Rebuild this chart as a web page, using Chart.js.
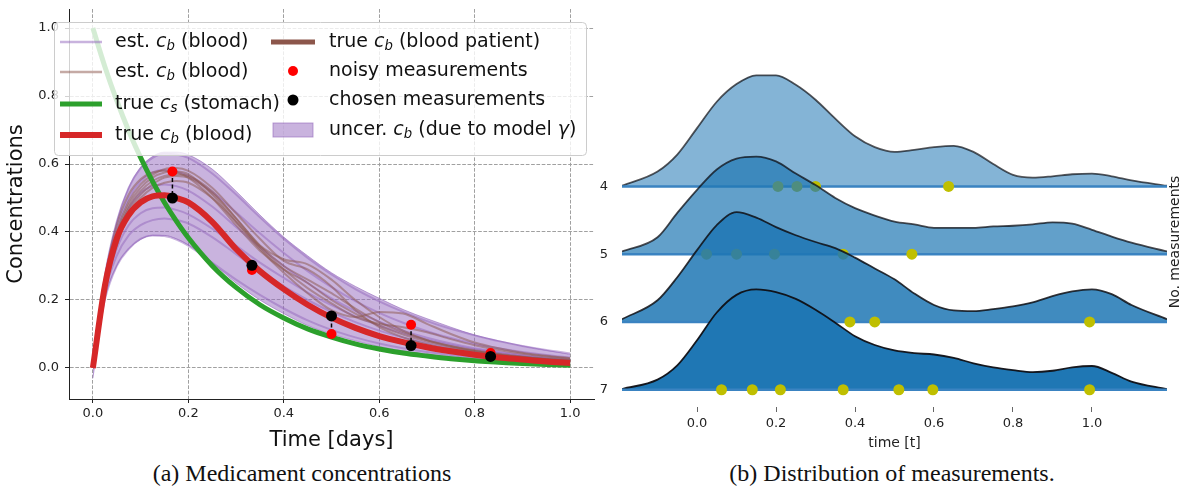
<!DOCTYPE html>
<html><head><meta charset="utf-8">
<script src="https://cdn.jsdelivr.net/npm/chart.js@4/dist/chart.umd.min.js"></script>
<style>
body{margin:0;background:#fff;width:1183px;height:491px;position:relative;overflow:hidden}
canvas{position:absolute;top:0}
#ca{left:0}
#cb{left:600px}
.cap{position:absolute;top:460px;font:24px "Liberation Serif",serif;color:#111;white-space:nowrap;transform:translateX(-50%)}
</style></head><body>
<canvas id="ca" width="600" height="455"></canvas>
<canvas id="cb" width="583" height="455"></canvas>
<div class="cap" style="left:302px">(a) Medicament concentrations</div>
<div class="cap" style="left:892px">(b) Distribution of measurements.</div>
<script>
Chart.defaults.font.family = 'DejaVu Sans'
Chart.defaults.color = '#222'

// ---- panel (a) data
const tGrid = [0, .025, .05, .075, .1, .125, .15, .175, .2, .25, .3, .35, .4, .45, .5, .55, .6, .65, .7, .75, .8, .85, .9, .95, 1]
const cStomach = [1, .887, .787, .698, .619, .549, .487, .432, .383, .301, .237, .186, .147, .115, .091, .071, .056, .044, .035, .027, .021, .017, .013, .010, .008]
const cBlood = [0, .24, .38, .45, .487, .505, .508, .50, .487, .43, .35, .285, .232, .186, .148, .118, .094, .076, .061, .049, .039, .031, .025, .019, .015]
const bandLow = [-.03, .2, .3, .35, .378, .39, .39, .38, .362, .31, .25, .2, .16, .125, .1, .08, .063, .05, .04, .032, .026, .021, .017, .014, .012]
const bandHigh = [0, .27, .43, .53, .59, .622, .635, .635, .627, .585, .52, .45, .385, .33, .28, .24, .205, .172, .145, .12, .097, .08, .065, .052, .04]
const estPurple = [
  [0, .2, .3, .35, .38, .39, .388, .378, .36, .31, .26, .215, .175, .14, .112, .09, .072, .058, .047, .038, .03, .024, .019, .015, .012],
  [0, .22, .33, .39, .42, .435, .44, .435, .425, .385, .335, .285, .24, .2, .165, .135, .11, .09, .073, .06, .048, .039, .032, .026, .021],
  [0, .23, .35, .42, .455, .47, .472, .465, .452, .41, .36, .31, .265, .222, .185, .152, .125, .102, .083, .068, .055, .045, .036, .029, .023],
  [0, .25, .39, .47, .515, .535, .54, .535, .522, .475, .415, .355, .3, .25, .205, .168, .136, .11, .089, .072, .058, .047, .038, .031, .025],
  [0, .26, .41, .5, .55, .575, .582, .578, .565, .518, .458, .396, .338, .285, .238, .197, .162, .133, .108, .088, .071, .058, .047, .038, .031],
  [0, .27, .43, .53, .588, .618, .63, .628, .618, .572, .51, .443, .38, .324, .275, .232, .196, .165, .138, .115, .096, .079, .065, .053, .043]
]
const estBrown = [
  [0, .26, .42, .51, .555, .575, .58, .575, .56, .5, .42, .345, .29, .25, .2, .16, .125, .098, .078, .062, .05, .04, .032, .026, .021],
  [0, .25, .4, .49, .54, .568, .585, .588, .58, .53, .455, .38, .315, .29, .24, .17, .12, .09, .07, .056, .045, .037, .03, .025, .02],
  [0, .24, .38, .47, .52, .55, .565, .57, .565, .52, .44, .36, .32, .305, .26, .2, .15, .11, .082, .064, .05, .04, .032, .026, .021],
  [0, .25, .39, .48, .53, .56, .575, .578, .57, .51, .43, .35, .28, .22, .17, .15, .165, .16, .13, .1, .075, .058, .045, .036, .029],
  [0, .23, .36, .45, .5, .53, .545, .55, .545, .5, .43, .355, .29, .235, .19, .15, .13, .12, .105, .085, .067, .053, .042, .034, .027],
  [0, .24, .37, .46, .51, .54, .56, .565, .56, .515, .44, .36, .3, .26, .22, .175, .135, .105, .082, .065, .052, .042, .034, .028, .023]
]
const measT = [.1667, .3333, .5, .6667, .8333]
const noisy = [.578, .288, .1, .127, .044]
const chosen = [.5, .302, .153, .066, .034]
const aTicks = [0, .2, .4, .6, .8, 1]

// ---- panel (b) data
const ridgeX = [-.19, -.1, -.05, 0, .05, .1, .15, .2, .25, .3, .35, .4, .45, .5, .55, .6, .65, .7, .75, .8, .85, .9, .95, 1, 1.05, 1.1, 1.19]
const ridge4 = [.01, .22, .47, .86, 1.25, 1.51, 1.64, 1.64, 1.5, 1.28, 1, .74, .58, .51, .54, .58, .6, .51, .33, .17, .13, .15, .18, .19, .15, .09, .01]
const ridge5 = [.04, .25, .61, .95, 1.25, 1.41, 1.44, 1.37, 1.19, 1.02, .83, .68, .57, .48, .44, .39, .39, .39, .41, .42, .44, .47, .45, .36, .26, .17, .04]
const ridge6 = [.04, .32, .66, 1.06, 1.43, 1.62, 1.54, 1.4, 1.28, 1.18, 1.09, .95, .79, .63, .42, .25, .17, .16, .19, .23, .29, .38, .45, .48, .41, .25, .04]
const ridge7 = [.01, .15, .36, .73, 1.14, 1.4, 1.48, 1.44, 1.34, 1.18, .99, .79, .66, .58, .54, .52, .47, .39, .33, .29, .26, .28, .33, .35, .25, .12, .01]
const rowLabels = ['4', '5', '6', '7']
const meas4 = [.205, .253, .3, .637]
const meas5 = [.024, .1, .196, .37, .544]
const meas6 = [.387, .45, .994]
const meas7 = [.062, .14, .211, .37, .511, .597, .994]
const bTicks = [0, .2, .4, .6, .8, 1]

// ---------- helpers
const pts = ys => ys.map((y, i) => ({x: tGrid[i], y}))
const curve = (ys, color, w, extra) => ({data: pts(ys), borderColor: color, borderWidth: w, pointRadius: 0,
  cubicInterpolationMode: 'monotone', fill: false, ...extra})
const PURPLE = 'rgba(148,103,189,0.5)', BROWN = 'rgba(140,86,75,0.5)'
const noPad = s => { s.paddingTop = 0; s.paddingBottom = 0; s.paddingLeft = 0; s.paddingRight = 0 }

const it = t => ({t, it: true}), sb = t => ({t, sub: true, it: true})
function rich(ctx, x, y, parts, size) {
  let cx = x
  ctx.textBaseline = 'middle'; ctx.textAlign = 'left'; ctx.fillStyle = '#111'
  for (const p of parts) {
    const s = typeof p === 'string' ? {t: p} : p
    const fs = s.sub ? size * 0.7 : size
    ctx.font = (s.it ? 'italic ' : '') + fs + 'px "DejaVu Sans"'
    ctx.fillText(s.t, cx, y + (s.sub ? size * 0.25 : 0))
    cx += ctx.measureText(s.t).width
  }
}

const legendA = {
  id: 'legendA',
  afterDatasetsDraw(chart) {
    const ctx = chart.ctx
    ctx.save()
    ctx.beginPath(); ctx.roundRect(54.5, 22.5, 532, 133, 4)
    ctx.fillStyle = 'rgba(255,255,255,0.8)'; ctx.fill()
    ctx.strokeStyle = '#ccc'; ctx.lineWidth = 1; ctx.stroke()
    const hline = (x1, x2, y, c, w) => { ctx.beginPath(); ctx.moveTo(x1, y); ctx.lineTo(x2, y); ctx.strokeStyle = c; ctx.lineWidth = w; ctx.stroke() }
    const dot = (x, y, r, c) => { ctx.beginPath(); ctx.arc(x, y, r, 0, 7); ctx.fillStyle = c; ctx.fill() }
    hline(60, 102, 42, PURPLE, 2.5)
    hline(60, 102, 72, BROWN, 2.5)
    hline(60, 102, 104, '#2ca02c', 5)
    hline(60, 102, 135, '#d62728', 6)
    hline(271, 315, 42, '#8c564b', 5)
    dot(293, 71, 5, '#ff0000')
    dot(293, 100, 5.5, '#000')
    ctx.fillStyle = PURPLE; ctx.fillRect(273, 123, 40, 14)
    ctx.strokeStyle = 'rgba(148,103,189,0.6)'; ctx.lineWidth = 1; ctx.strokeRect(273, 123, 40, 14)
    const fs = 19
    rich(ctx, 115, 42, ['est. ', it('c'), sb('b'), ' (blood)'], fs)
    rich(ctx, 115, 72, ['est. ', it('c'), sb('b'), ' (blood)'], fs)
    rich(ctx, 115, 104, ['true ', it('c'), sb('s'), ' (stomach)'], fs)
    rich(ctx, 115, 135, ['true ', it('c'), sb('b'), ' (blood)'], fs)
    rich(ctx, 329, 42, ['true ', it('c'), sb('b'), ' (blood patient)'], fs)
    rich(ctx, 329, 71, ['noisy measurements'], fs)
    rich(ctx, 329, 100, ['chosen measurements'], fs)
    rich(ctx, 329, 130, ['uncer. ', it('c'), sb('b'), ' (due to model ', it('γ'), ')'], fs)
    ctx.restore()
  }
}

// ---------- panel (a)
const dsA = [
  curve(bandLow, 'rgba(148,103,189,0.6)', 1),
  curve(bandHigh, 'rgba(148,103,189,0.6)', 1, {fill: '-1', backgroundColor: PURPLE}),
  ...estPurple.map(c => curve(c, PURPLE, 2)),
  ...estBrown.map(c => curve(c, BROWN, 2)),
  curve(cStomach, '#2ca02c', 5),
  curve(cBlood, '#d62728', 6),
  ...measT.map((t, i) => ({data: [{x: t, y: noisy[i]}, {x: t, y: chosen[i]}], borderColor: '#000',
    borderWidth: 1.5, borderDash: [4, 2.5], pointRadius: 0})),
  {data: measT.map((t, i) => ({x: t, y: noisy[i]})), showLine: false, pointRadius: 5,
    pointBackgroundColor: '#ff0000', pointBorderWidth: 0},
  {data: measT.map((t, i) => ({x: t, y: chosen[i]})), showLine: false, pointRadius: 5.5,
    pointBackgroundColor: '#000', pointBorderWidth: 0}
].map((d, i) => ({...d, order: -i}))

new Chart(document.getElementById('ca'), {
  type: 'line',
  data: {datasets: dsA},
  options: {
    responsive: false, animation: false,
    layout: {padding: {top: 9, right: 6}},
    plugins: {legend: {display: false}, tooltip: {enabled: false}},
    scales: {
      x: {type: 'linear', min: -0.05, max: 1.05,
        afterBuildTicks: s => { s.ticks = aTicks.map(v => ({value: v})) },
        afterFit: s => { s.height = 56; noPad(s) },
        ticks: {callback: v => v.toFixed(1), font: {size: 13}, padding: 3, maxRotation: 0, autoSkip: false},
        grid: {color: '#a0a0a0', tickLength: 4, tickColor: '#222'},
        border: {display: true, color: '#222', width: 1, dash: [3.7, 1.6]},
        title: {display: true, text: 'Time [days]', font: {size: 21}, color: '#111', padding: {top: 0, bottom: 2}}
      },
      y: {min: -0.0912, max: 1.0559,
        afterBuildTicks: s => { s.ticks = aTicks.map(v => ({value: v})) },
        afterFit: s => { s.width = 69; noPad(s) },
        ticks: {callback: v => v.toFixed(1), font: {size: 13}, padding: 6},
        grid: {color: '#a0a0a0', tickLength: 4, tickColor: '#222'},
        border: {display: true, color: '#222', width: 1, dash: [3.7, 1.6]},
        title: {display: true, text: 'Concentrations', font: {size: 21}, color: '#111', padding: {top: 4, bottom: 0}}
      }
    }
  },
  plugins: [legendA]
})

// ---------- panel (b)
const ridges = [ridge4, ridge5, ridge6, ridge7]
const meas = [meas4, meas5, meas6, meas7]
const fillA = [0.55, 0.7, 0.85, 1], edgeA = [0.7, 0.75, 0.85, 0.95]
const dsB = []
ridges.forEach((r, k) => {
  const base = 3 - k
  dsB.push({data: r.map((h, i) => ({x: ridgeX[i], y: base + h})), fill: {value: base},
    backgroundColor: `rgba(31,119,180,${fillA[k]})`, borderColor: `rgba(15,15,20,${edgeA[k]})`, borderWidth: 1.8,
    pointRadius: 0, cubicInterpolationMode: 'monotone'})
  dsB.push({data: [{x: ridgeX[0], y: base}, {x: ridgeX[ridgeX.length - 1], y: base}],
    borderColor: '#3a83c1', borderWidth: 2.5, pointRadius: 0})
  dsB.push({data: meas[k].map(t => ({x: t, y: base})), showLine: false, pointRadius: 5.5,
    pointBackgroundColor: '#bfbf00', pointBorderWidth: 0})
})
dsB.forEach((d, i) => { d.order = -i })

const sideTitle = {
  id: 'sideTitle',
  afterDraw(chart) {
    const ctx = chart.ctx
    ctx.save()
    ctx.translate(575, 242); ctx.rotate(-Math.PI / 2)
    ctx.font = '14px "DejaVu Sans"'; ctx.fillStyle = '#222'
    ctx.textAlign = 'center'; ctx.textBaseline = 'middle'
    ctx.fillText('No. measurements', 0, 0)
    ctx.restore()
  }
}

new Chart(document.getElementById('cb'), {
  type: 'line',
  data: {datasets: dsB},
  options: {
    responsive: false, animation: false,
    layout: {padding: {top: 0, right: 16}},
    plugins: {legend: {display: false}, tooltip: {enabled: false}},
    scales: {
      x: {type: 'linear', min: -0.19, max: 1.19,
        afterBuildTicks: s => { s.ticks = bTicks.map(v => ({value: v})) },
        afterFit: s => { s.height = 48; noPad(s) },
        ticks: {callback: v => v.toFixed(1), font: {size: 13}, padding: 4, maxRotation: 0, autoSkip: false},
        grid: {drawOnChartArea: false, drawTicks: true, tickLength: 5, tickColor: '#666'},
        border: {display: false},
        title: {display: true, text: 'time [t]', font: {size: 14}, color: '#222', padding: {top: 0, bottom: 3}}
      },
      y: {min: -0.2547, max: 5.67,
        afterBuildTicks: s => { s.ticks = [0, 1, 2, 3].map(v => ({value: v})) },
        afterFit: s => { s.width = 22; noPad(s) },
        ticks: {callback: v => rowLabels[3 - v], font: {size: 13}, padding: 14},
        grid: {display: false, drawTicks: false},
        border: {display: false}
      }
    }
  },
  plugins: [sideTitle]
})
</script>
</body></html>
